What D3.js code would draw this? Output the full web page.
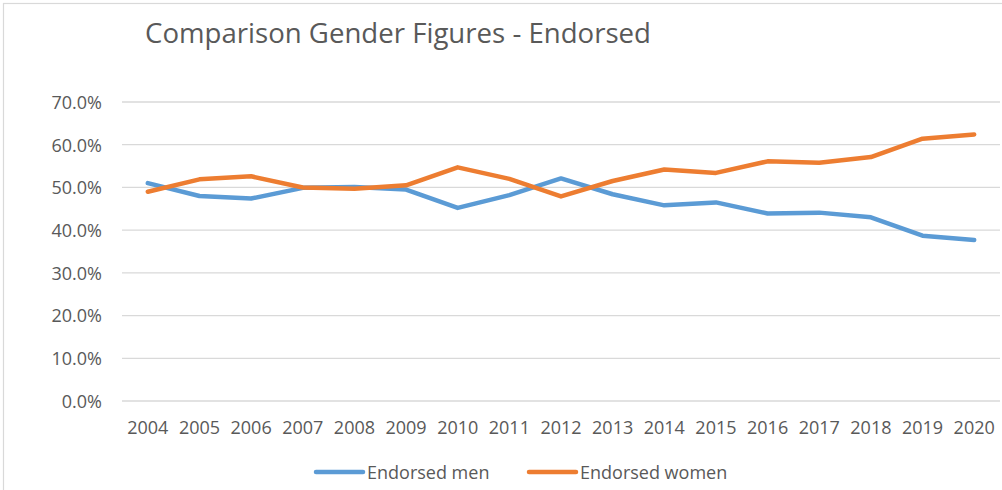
<!DOCTYPE html>
<html>
<head>
<meta charset="utf-8">
<script src="https://cdnjs.cloudflare.com/ajax/libs/d3/7.8.5/d3.min.js"></script>
<style>
  html, body { margin: 0; padding: 0; background: #fff; }
  svg { display: block; font-family: "Open Sans", sans-serif; }
</style>
</head>
<body>
<svg id="chart" width="1002" height="490"></svg>
<script>
// chart data (share of endorsed, in %)
const years = ["2004","2005","2006","2007","2008","2009","2010","2011","2012",
               "2013","2014","2015","2016","2017","2018","2019","2020"];
const endorsedMen   = [51.0, 48.0, 47.4, 49.9, 50.1, 49.5, 45.2, 48.2, 52.1,
                       48.4, 45.8, 46.5, 43.9, 44.1, 43.0, 38.7, 37.7];
const endorsedWomen = [49.0, 51.9, 52.6, 50.0, 49.7, 50.5, 54.7, 52.0, 47.9,
                       51.5, 54.2, 53.4, 56.1, 55.8, 57.1, 61.4, 62.4];
const yTicks = [0, 10, 20, 30, 40, 50, 60, 70];
const seriesNames = ["Endorsed men", "Endorsed women"];
const seriesColors = ["#5b9bd5", "#ed7d31"];

const svg = d3.select("#chart");
const textColor = "#595959";

// outer chart border
svg.append("rect")
  .attr("x", 3.5).attr("y", 3.5)
  .attr("width", 1020).attr("height", 520)
  .attr("fill", "none")
  .attr("stroke", "#d9d9d9")
  .attr("stroke-width", 1.2);

// title
svg.append("text")
  .attr("x", 145).attr("y", 43)
  .attr("font-size", 28)
  .attr("fill", textColor)
  .attr("textLength", 506)
  .attr("lengthAdjust", "spacingAndGlyphs")
  .text("Comparison Gender Figures - Endorsed");

const x = d3.scaleBand().domain(years).range([122, 1000]);
const y = d3.scaleLinear().domain([0, 70]).range([401, 102]);

// gridlines
svg.append("g")
  .selectAll("line")
  .data(yTicks)
  .join("line")
  .attr("x1", 122).attr("x2", 1000)
  .attr("y1", d => y(d)).attr("y2", d => y(d))
  .attr("stroke", "#d9d9d9")
  .attr("stroke-width", 1.3);

// y axis labels
const yAxis = d3.axisLeft(y).tickValues(yTicks)
  .tickFormat(d => d.toFixed(1) + "%")
  .tickSize(0).tickPadding(0);
const gy = svg.append("g").attr("transform", "translate(102,0)").call(yAxis);
gy.select(".domain").remove();
gy.selectAll("text")
  .attr("font-size", 18)
  .attr("font-family", "Open Sans, sans-serif")
  .attr("fill", textColor)
  .attr("dy", "0.35em");

// x axis labels
const xAxis = d3.axisBottom(x).tickSize(0).tickPadding(0);
const gx = svg.append("g").attr("transform", "translate(0,420)").call(xAxis);
gx.select(".domain").remove();
gx.selectAll("text")
  .attr("font-size", 18)
  .attr("font-family", "Open Sans, sans-serif")
  .attr("fill", textColor)
  .attr("dy", "0.75em");

// series lines
const line = d3.line()
  .x((d, i) => x(years[i]) + x.bandwidth() / 2)
  .y(d => y(d));

[endorsedMen, endorsedWomen].forEach((vals, k) => {
  svg.append("path")
    .datum(vals)
    .attr("d", line)
    .attr("fill", "none")
    .attr("stroke", seriesColors[k])
    .attr("stroke-width", 4.5)
    .attr("stroke-linejoin", "round")
    .attr("stroke-linecap", "round");
});

// legend
const legendX = [316, 529];
const legend = svg.append("g")
  .selectAll("g")
  .data(seriesNames)
  .join("g")
  .attr("transform", (d, i) => "translate(" + legendX[i] + ",472)");
legend.append("line")
  .attr("x1", 0).attr("x2", 47)
  .attr("stroke", (d, i) => seriesColors[i])
  .attr("stroke-width", 4.5)
  .attr("stroke-linecap", "round");
legend.append("text")
  .attr("x", 51).attr("y", 6.5)
  .attr("font-size", 18)
  .attr("fill", textColor)
  .text(d => d);
</script>
</body>
</html>
